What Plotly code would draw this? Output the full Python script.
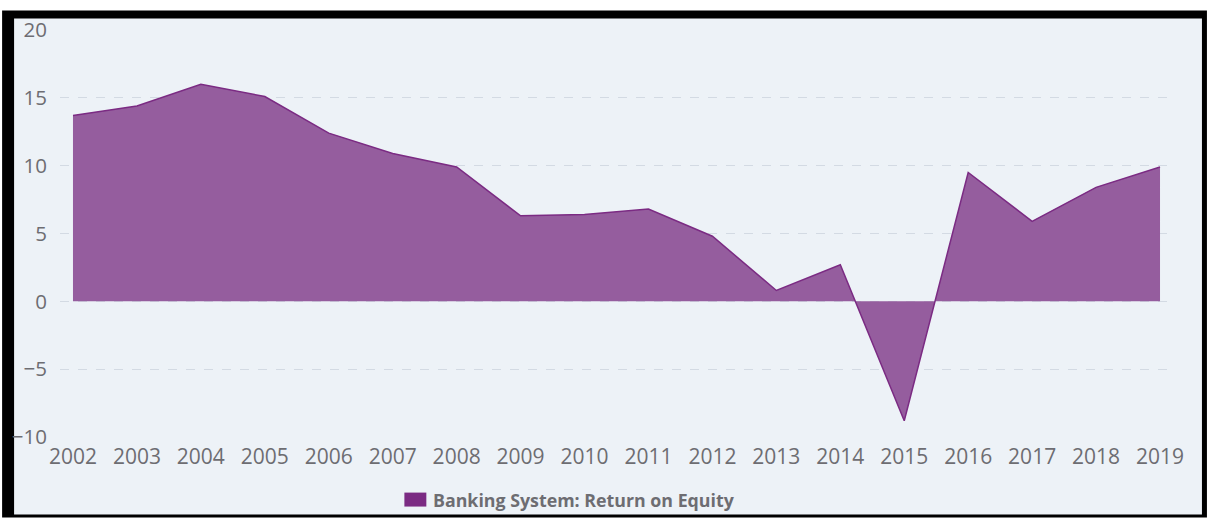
import plotly.graph_objects as go

# Banking system return on equity (%) by year
years = [2002, 2003, 2004, 2005, 2006, 2007, 2008, 2009, 2010,
         2011, 2012, 2013, 2014, 2015, 2016, 2017, 2018, 2019]
roe = [13.7, 14.4, 16.0, 15.1, 12.4, 10.9, 9.9, 6.3, 6.4,
       6.8, 4.8, 0.8, 2.7, -8.8, 9.5, 5.9, 8.4, 9.9]
series_name = "Banking System: Return on Equity"
y_ticks = [-10, -5, 0, 5, 10, 15, 20]

W, H = 1207, 518
ML, MR, MT, MB = 58, W - 1172, 29.5, H - 437.3

FILL = "#955d9e"
LINE = "#7b2b83"
BG = "#edf2f7"
TXT = "#6d6d72"
FONT = "Open Sans"

fig = go.Figure()
fig.add_trace(go.Scatter(
    x=years, y=roe, mode="lines", name=series_name,
    fill="tozeroy", fillcolor=FILL,
    line=dict(color=LINE, width=1.5),
    showlegend=False, hoverinfo="x+y",
))

pw = W - ML - MR
ph = H - MT - MB


def px_x(p):
    return (p - ML) / pw


def px_y(p):
    return (H - MB - p) / ph


shapes = [
    # black frame with the light panel inside
    dict(type="rect", xref="paper", yref="paper", layer="below",
         x0=px_x(0), x1=px_x(W), y0=px_y(H), y1=px_y(10),
         fillcolor="black", line=dict(width=0)),
    dict(type="rect", xref="paper", yref="paper", layer="below",
         x0=px_x(12), x1=px_x(1202), y0=px_y(515), y1=px_y(18),
         fillcolor=BG, line=dict(width=0)),
    # legend swatch
    dict(type="rect", xref="paper", yref="paper",
         x0=px_x(403), x1=px_x(425), y0=px_y(507), y1=px_y(493),
         fillcolor="#7b2b83", line=dict(width=0)),
]

annotations = [
    dict(text="<b>" + series_name + "</b>", xref="paper", yref="paper",
         x=px_x(430), y=px_y(500), xanchor="left", yanchor="middle",
         showarrow=False, font=dict(family=FONT, size=17.8, color=TXT)),
]

fig.update_layout(
    width=W, height=H,
    margin=dict(l=ML, r=MR, t=MT, b=MB, pad=0),
    paper_bgcolor="white", plot_bgcolor="rgba(0,0,0,0)",
    shapes=shapes, annotations=annotations,
    font=dict(family=FONT, color=TXT),
    xaxis=dict(
        range=[2002 - 13 / 64.06, 2019 + 12 / 64.06],
        tickmode="array", tickvals=years, ticktext=[str(y) for y in years],
        showgrid=False, zeroline=False, showline=False, ticks="",
        tickfont=dict(family=FONT, size=21, color=TXT),
        ticklabelstandoff=5,
    ),
    yaxis=dict(
        range=[-10, 20], tickmode="array", tickvals=y_ticks,
        showgrid=True, gridcolor="#d3dae3", griddash="dash", gridwidth=1,
        zeroline=False, showline=False, ticks="",
        tickfont=dict(family=FONT, size=20.5, color=TXT),
        ticklabelstandoff=12,
    ),
)

fig.write_html("out.html")
